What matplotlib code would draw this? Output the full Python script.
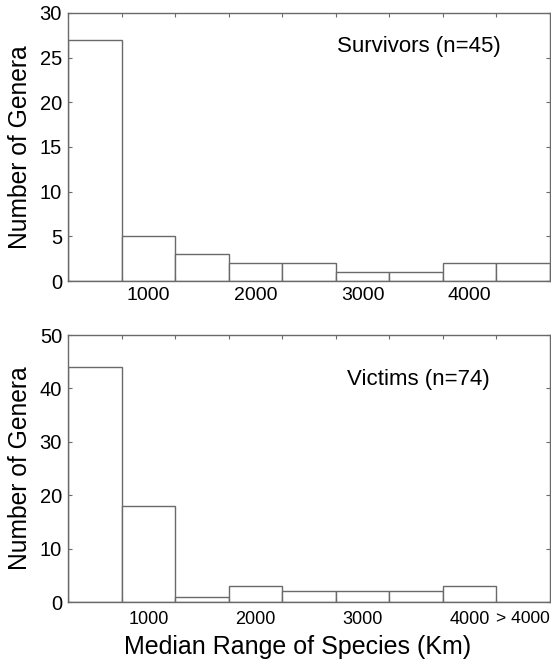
import numpy as np
import matplotlib.pyplot as plt

plt.rcParams['font.family'] = ['Liberation Sans', 'DejaVu Sans']

# bin edges (km) and counts
edges = [250, 750, 1250, 1750, 2250, 2750, 3250, 3750, 4250, 4750]
survivors = [27, 5, 3, 2, 2, 1, 1, 2, 2]
victims = [44, 18, 1, 3, 2, 2, 2, 3, 0]
label_pos = [1000, 2000, 3000, 4000]
label_txt = ['1000', '2000', '3000', '4000']

fig = plt.figure(figsize=(5.51, 6.65), dpi=100)
ax1 = fig.add_axes([0.1234, 0.5774, 0.8748, 0.4031])
ax2 = fig.add_axes([0.1234, 0.0947, 0.8748, 0.4015])

edge_col = '#6a6a6a'

def draw(ax, counts, ymax, ystep, title, ty, extra_label, xsize, xpad):
    lefts = np.array(edges[:-1])
    widths = np.diff(edges)
    ax.bar(lefts, counts, width=widths, align='edge', color='white',
           edgecolor=edge_col, linewidth=1.0)
    ax.set_xlim(edges[0], edges[-1])
    ax.set_ylim(0, ymax)
    ax.set_yticks(np.arange(0, ymax + 1, ystep))
    ax.set_xticks(edges)
    ax.set_xticklabels([])
    pos = list(label_pos)
    txt = list(label_txt)
    if extra_label:
        pos.append(4495)
        txt.append('> 4000')
    ax.set_xticks(pos, minor=True)
    ax.set_xticklabels(txt, minor=True)
    ax.tick_params(axis='x', which='major', direction='in', length=3,
                   top=True, color=edge_col)
    ax.tick_params(axis='x', which='minor', length=0, labelsize=xsize,
                   pad=xpad)
    if extra_label:
        ax.get_xticklabels(minor=True)[-1].set_fontsize(12.6)
    ax.tick_params(axis='y', direction='in', length=3, right=True,
                   color=edge_col, labelsize=14.5, pad=4.3)
    for s in ax.spines.values():
        s.set_color(edge_col)
        s.set_linewidth(1.0)
    ax.set_ylabel('Number of Genera', fontsize=17.7, labelpad=5.5)
    ax.text(0.727, ty, title, transform=ax.transAxes, ha='center',
            va='baseline', fontsize=16)

draw(ax1, survivors, 30, 5, 'Survivors (n=45)', 0.853, False, 14, 4.3)
draw(ax2, victims, 50, 10, 'Victims (n=74)', 0.813, True, 13, 6.5)
ax2.set_xlabel('Median Range of Species (Km)', fontsize=18)
ax2.xaxis.set_label_coords(0.477, -0.124)

fig.savefig('out.png', dpi=100)
